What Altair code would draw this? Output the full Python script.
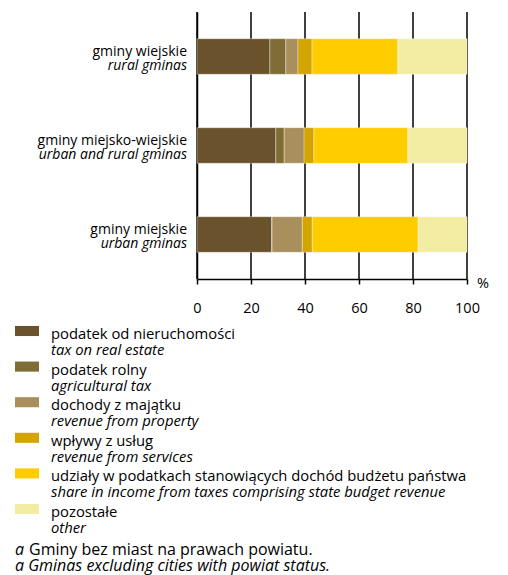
import altair as alt
import pandas as pd

groups = ["gminy wiejskie", "gminy miejsko-wiejskie", "gminy miejskie"]
groups_en = ["rural gminas", "urban and rural gminas", "urban gminas"]

categories = [
    "podatek od nieruchomości",
    "podatek rolny",
    "dochody z majątku",
    "wpływy z usług",
    "udziały w podatkach stanowiących dochód budżetu państwa",
    "pozostałe",
]
categories_en = [
    "tax on real estate",
    "agricultural tax",
    "revenue from property",
    "revenue from services",
    "share in income from taxes comprising state budget revenue",
    "other",
]
colors = ["#6A532C", "#7E6E35", "#A88F5C", "#D4A500", "#FFCC00", "#F2EDA3"]

# shares in % per group, in category order
values = {
    "gminy wiejskie": [27.0, 5.9, 4.5, 5.2, 31.8, 25.6],
    "gminy miejsko-wiejskie": [29.2, 3.1, 7.4, 3.6, 34.8, 21.9],
    "gminy miejskie": [27.7, 0.1, 11.2, 3.7, 39.2, 18.1],
}

x_ticks = [0, 20, 40, 60, 80, 100]
footnote_1a = "a"
footnote_1b = "Gminy bez miast na prawach powiatu."
footnote_2 = "a Gminas excluding cities with powiat status."

FONT = "Open Sans"

rows = []
for g in groups:
    for i, c in enumerate(categories):
        rows.append({"group": g, "cat": c, "value": values[g][i], "order": i})
bars_df = pd.DataFrame(rows)
labels_df = pd.DataFrame({"group": groups, "en": groups_en})
legend_df = pd.DataFrame({"cat": categories, "en": categories_en, "idx": list(range(len(categories)))})
ticks_df = pd.DataFrame({"t": x_ticks})

color_scale = alt.Scale(domain=categories, range=colors)
x_scale = alt.Scale(domain=[0, 100], nice=False)
y_scale = alt.Scale(domain=groups, paddingInner=0.6, paddingOuter=0.3)

grid = alt.Chart(ticks_df).mark_rule(color="black", strokeWidth=1.5).encode(
    x=alt.X("t:Q", scale=x_scale,
            axis=alt.Axis(values=x_ticks, title=None, grid=False, domainColor="black", domainWidth=1.5,
                          tickColor="black", tickWidth=1.5, tickSize=5, labelPadding=17,
                          labelFlush=False, labelFont=FONT, labelFontSize=14.5, labelColor="black")),
    y=alt.value(0), y2=alt.value(267),
)

bars = alt.Chart(bars_df).mark_bar(stroke="white", strokeWidth=0.6, strokeOpacity=0.6).encode(
    x=alt.X("value:Q", stack="zero", scale=x_scale),
    y=alt.Y("group:N", sort=groups, scale=y_scale,
            axis=alt.Axis(labels=False, ticks=False, title=None, domainColor="black",
                          domainWidth=1.5, grid=False)),
    color=alt.Color("cat:N", scale=color_scale, legend=None),
    order=alt.Order("order:Q"),
)

lab1 = alt.Chart(labels_df).mark_text(align="right", baseline="alphabetic", font=FONT,
                                      fontSize=14, color="black", dy=-1).encode(
    x=alt.value(-10), y=alt.Y("group:N", sort=groups, scale=y_scale, axis=None), text="group:N")
lab2 = alt.Chart(labels_df).mark_text(align="right", baseline="alphabetic", font=FONT,
                                      fontSize=14, fontStyle="italic", color="black", dy=13.5).encode(
    x=alt.value(-10), y=alt.Y("group:N", sort=groups, scale=y_scale, axis=None), text="en:N")

pct = alt.Chart(pd.DataFrame({"t": ["%"]})).mark_text(font=FONT, fontSize=14.5, color="black",
                                                      baseline="middle").encode(
    x=alt.value(286), y=alt.value(272), text="t:N")

leg_y = alt.Y("idx:O", scale=alt.Scale(type="point", range=[327, 505], padding=0), axis=None)
leg_sw = alt.Chart(legend_df).mark_point(shape="M-1,-0.42H1V0.42H-1Z", size=576, filled=True,
                                         opacity=1, yOffset=-8).encode(
    x=alt.value(-170), y=leg_y, color=alt.Color("cat:N", scale=color_scale, legend=None))
leg_t1 = alt.Chart(legend_df).mark_text(align="left", baseline="alphabetic", font=FONT,
                                        fontSize=14.8, color="black").encode(
    x=alt.value(-146), y=leg_y, text="cat:N")
leg_t2 = alt.Chart(legend_df).mark_text(align="left", baseline="alphabetic", font=FONT,
                                        fontSize=14.8, fontStyle="italic", color="black", dy=16).encode(
    x=alt.value(-146), y=leg_y, text="en:N")

fn_df = pd.DataFrame({"a": [footnote_1a], "b": [footnote_1b], "c": [footnote_2]})
fn1a = alt.Chart(fn_df).mark_text(align="left", baseline="alphabetic", font=FONT, fontSize=16,
                                  fontStyle="italic", color="black").encode(
    x=alt.value(-182), y=alt.value(543), text="a:N")
fn1b = alt.Chart(fn_df).mark_text(align="left", baseline="alphabetic", font=FONT, fontSize=16,
                                  color="black").encode(
    x=alt.value(-168), y=alt.value(543), text="b:N")
fn2 = alt.Chart(fn_df).mark_text(align="left", baseline="alphabetic", font=FONT, fontSize=16,
                                 fontStyle="italic", color="black").encode(
    x=alt.value(-182), y=alt.value(559), text="c:N")

chart = alt.layer(grid, bars, lab1, lab2, pct, leg_sw, leg_t1, leg_t2, fn1a, fn1b, fn2).resolve_scale(
    y="independent"
).properties(
    width=270, height=267,
    autosize=alt.AutoSizeParams(type="none"),
    padding={"left": 189, "top": 4, "right": 33, "bottom": 296},
).configure_view(stroke=None)

chart.save("out.html", embed_options={"renderer": "svg", "actions": False})
